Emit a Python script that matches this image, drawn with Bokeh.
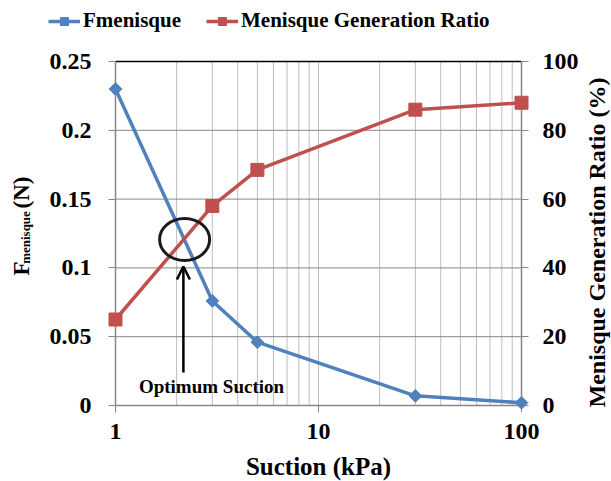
import math

from bokeh.embed import file_html
from bokeh.models import (Arrow, FixedTicker, Label, Legend, LegendItem, LinearAxis,
                          NumeralTickFormatter, OpenHead, Range1d)
from bokeh.plotting import figure
from bokeh.resources import INLINE

# Suction levels (kPa)
suction = [1, 3, 5, 30, 100]
# Meniscus force (N)
f_menisque = [0.23, 0.076, 0.046, 0.007, 0.002]
# Meniscus generation ratio (%)
ratio = [25, 58, 68.5, 86, 88]

x_major = [1, 10, 100]
x_minor = [2, 3, 4, 5, 6, 7, 8, 9, 20, 30, 40, 50, 60, 70, 80, 90]
y_left_ticks = [0, 0.05, 0.1, 0.15, 0.2, 0.25]
y_right_ticks = [0, 20, 40, 60, 80, 100]

# annotation of the optimum suction
optimum_x = 2.19
optimum_y = 0.1206
arrow_x = 2.16
arrow_y0 = 0.024
arrow_y1 = 0.101
note_x = 2.97
note_y = 0.0135

BLUE = "#4F81BD"
RED = "#C0504D"
FONT = "Liberation Serif"
AXIS_GRAY = "#868686"
GRID_LIGHT = "#BFBFBF"

# canvas and plotting-area geometry (px); the whole canvas is the frame so
# that titles, legend and edge markers are not clipped
W, H = 611, 481
LEFT, RIGHT, TOP, BOTTOM = 115, 521, 61, 405
X0, X1 = 1, 100
Y0, Y1 = 0, 0.25
R0, R1 = 0, 100

dec = (RIGHT - LEFT) / math.log10(X1 / X0)
x_start = X0 * 10 ** (-LEFT / dec)
x_end = X1 * 10 ** ((W - RIGHT) / dec)
ky = (BOTTOM - TOP) / (Y1 - Y0)
kr = (BOTTOM - TOP) / (R1 - R0)

p = figure(width=W, height=H, x_axis_type="log",
           x_range=Range1d(x_start, x_end),
           y_range=Range1d(Y0 - (H - BOTTOM) / ky, Y1 + TOP / ky),
           output_backend="svg", toolbar_location=None,
           min_border=0, min_border_left=0, min_border_right=0,
           min_border_top=0, min_border_bottom=0)
p.extra_y_ranges = {"ratio": Range1d(R0 - (H - BOTTOM) / kr, R1 + TOP / kr)}
p.outline_line_color = None
p.background_fill_color = "white"
p.border_fill_color = "white"
p.grid.visible = False

# grid lines, limited to the plotting area
p.segment(x0=x_minor + x_major, x1=x_minor + x_major,
          y0=[Y0] * (len(x_minor) + 3), y1=[Y1] * (len(x_minor) + 3),
          line_color=GRID_LIGHT, line_width=1)
p.segment(x0=[X0] * len(y_left_ticks), x1=[X1] * len(y_left_ticks),
          y0=y_left_ticks, y1=y_left_ticks, line_color=AXIS_GRAY, line_width=1)
# top border
p.segment(x0=[X0], x1=[X1], y0=[Y1], y1=[Y1], line_color="black", line_width=1.5)


def style_axis(ax):
    ax.axis_line_color = AXIS_GRAY
    ax.axis_line_width = 1.5
    ax.major_tick_line_color = AXIS_GRAY
    ax.major_tick_line_width = 1
    ax.major_tick_in = 0
    ax.major_tick_out = 7
    ax.minor_tick_line_color = None
    ax.major_label_text_font = FONT
    ax.major_label_text_font_style = "bold"
    ax.major_label_text_font_size = "24px"
    ax.major_label_text_color = "black"


xa = p.xaxis[0]
xa.ticker = FixedTicker(ticks=x_major, minor_ticks=[])
xa.formatter = NumeralTickFormatter(format="0")
xa.fixed_location = Y0
xa.bounds = (X0, X1)
style_axis(xa)
xa.major_label_standoff = 11

ya = p.yaxis[0]
ya.ticker = FixedTicker(ticks=y_left_ticks)
ya.formatter = NumeralTickFormatter(format="0.[00]")
ya.fixed_location = X0
ya.bounds = (Y0, Y1)
style_axis(ya)
ya.major_label_standoff = 17

yr = LinearAxis(y_range_name="ratio", ticker=FixedTicker(ticks=y_right_ticks),
                fixed_location=X1, bounds=(R0, R1))
style_axis(yr)
yr.major_label_standoff = 14
p.add_layout(yr, "right")

# data series
bl = p.line(suction, f_menisque, line_color=BLUE, line_width=3.5, level="annotation")
bs = p.scatter(suction, f_menisque, marker="square", angle=math.pi / 4, size=9,
               fill_color=BLUE, line_color=BLUE, level="annotation")
rl = p.line(suction, ratio, line_color=RED, line_width=3.5, y_range_name="ratio",
            level="annotation")
rs = p.scatter(suction, ratio, marker="square", size=13, fill_color=RED,
               line_color=RED, y_range_name="ratio", level="annotation")

# optimum suction marker
p.ellipse(x=[optimum_x], y=[optimum_y], width=50, height=42,
          width_units="screen", height_units="screen",
          fill_color=None, line_color="#1a1a1a", line_width=3, level="annotation")
p.add_layout(Arrow(end=OpenHead(size=13, line_width=2.5, line_color="black"),
                   x_start=arrow_x, y_start=arrow_y0, x_end=arrow_x, y_end=arrow_y1,
                   line_width=2.5, line_color="black"))
p.add_layout(Label(x=note_x, y=note_y, text="Optimum Suction",
                   text_font=FONT, text_font_style="bold", text_font_size="19px",
                   text_align="center", text_baseline="middle", text_color="black"))


def title(text, sx, sy, size, angle=0.0):
    # sx, sy: centre of the text in px from the top-left corner
    p.add_layout(Label(x=sx, y=H - sy, x_units="screen", y_units="screen", text=text,
                       angle=angle, text_font=FONT, text_font_style="bold",
                       text_font_size=size, text_align="center",
                       text_baseline="middle", text_color="black"))


# axis titles
title("Suction (kPa)", (LEFT + RIGHT) / 2, 466, "25px")
title("Menisque Generation Ratio (%)", 596, 242, "24px", angle=math.pi / 2)
title("F", 21, 268, "23px", angle=math.pi / 2)
title("menisque", 25, 237, "13px", angle=math.pi / 2)
title("(N)", 21, 192, "23px", angle=math.pi / 2)

legend = Legend(items=[LegendItem(label="Fmenisque", renderers=[bl, bs]),
                       LegendItem(label="Menisque Generation Ratio", renderers=[rl, rs])],
                orientation="horizontal", location=(48, H - 33),
                label_text_font=FONT, label_text_font_style="bold",
                label_text_font_size="21px", label_text_color="black",
                glyph_width=32, glyph_height=20, label_standoff=3, spacing=25,
                padding=0, margin=0, border_line_color=None,
                background_fill_alpha=0)
p.add_layout(legend, "center")

open("out.html", "w").write(file_html(p, INLINE))
